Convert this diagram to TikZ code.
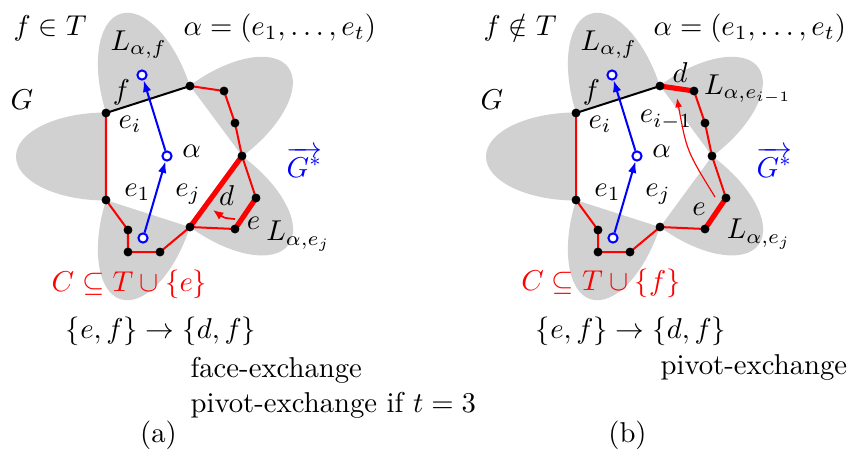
\documentclass[tikz,border=0pt]{standalone}
\usepackage{amsmath}
\usetikzlibrary{arrows.meta}
\tikzset{
  vtx/.style={circle,fill=black,inner sep=0pt,minimum size=3.1pt},
  bcirc/.style={circle,draw=blue,fill=white,line width=0.7pt,inner sep=0pt,minimum size=3.2pt},
  petal/.style={fill=black!18},
  redthin/.style={red,line width=0.7pt,line join=round},
  redthick/.style={red,line width=1.8pt,line cap=round},
  fedge/.style={black,line width=0.7pt},
  barrow/.style={blue,line width=0.7pt,-{Latex[length=4pt,width=3pt]}},
  rarrow/.style={red,line width=0.6pt,-{Latex[length=3.6pt,width=3pt]}},
  lab/.style={inner sep=0pt},
}
\newcommand{\DrawBase}{%
  \coordinate (v1) at (106,113);
  \coordinate (v2) at (190,86);
  \coordinate (v3) at (224,91);
  \coordinate (v4) at (235,123);
  \coordinate (v5) at (242,156);
  \coordinate (v6) at (256,198);
  \coordinate (v7) at (235,229);
  \coordinate (v8) at (190,227);
  \coordinate (v9) at (160,252);
  \coordinate (v10) at (128,252);
  \coordinate (v11) at (128,230);
  \coordinate (v12) at (106,200);
  \fill[petal,shift={(148,99.5)},rotate=107.8] (0,0) ellipse [x radius=90,y radius=44];
  \fill[petal,shift={(216,121)},rotate=36.6] (0,0) ellipse [x radius=90,y radius=44];
  \fill[petal,shift={(106,156.5)}] (0,0) ellipse [x radius=90,y radius=44];
  \fill[petal,shift={(148,213.5)},rotate=72.2] (0,0) ellipse [x radius=90,y radius=44];
  \fill[petal,shift={(216,191.5)},rotate=-36.2] (0,0) ellipse [x radius=90,y radius=44];
  \fill[white] (v1) -- (v2) -- (v5) -- (v8) -- (v12) -- cycle;
}
\newcommand{\DrawDotsAndAlpha}{%
  \foreach \i in {1,...,12} \node[vtx] (n\i) at (v\i) {};
  \node[bcirc] (a1) at (143,238) {};
  \node[bcirc] (a2) at (167,156) {};
  \node[bcirc] (a3) at (142,75) {};
  \draw[barrow] (a1) -- (a2);
  \draw[barrow] (a2) -- (a3);
  \node[lab,anchor=base west] (lG) at (10,109) {$G$};
  \node[lab,anchor=base west] (lLf) at (110,50) {$L_{\alpha,f}$};
  \node[lab,anchor=base west] (lal) at (183,35) {$\alpha=(e_1,\ldots,e_t)$};
  \node[lab] (lf) at (121.5,92.5) {$f$};
  \node[lab] (lei) at (130,124) {$e_i$};
  \node[lab] (lalpha) at (191.5,151.5) {$\alpha$};
  \node[lab] (le1) at (137.5,192) {$e_1$};
  \node[lab] (lej) at (188,194) {$e_j$};
  \node[lab,text=blue] (lGs) at (304.5,162) {$\overrightarrow{G^*}$};
  \node[lab] (lex) at (161,331.5) {$\{e,f\}\rightarrow\{d,f\}$};
}
\begin{document}
\begin{tikzpicture}[x=0.3484pt,y=-0.3484pt]
\useasboundingbox (0,0) rectangle (849,453);
% ---------- (a) ----------
\begin{scope}[name prefix=a-]
  \DrawBase
  \draw[fedge] (v1) -- (v2);
  \draw[redthin] (v2) -- (v3) -- (v4) -- (v5) -- (v6);
  \draw[redthin] (v7) -- (v8) -- (v9) -- (v10) -- (v11) -- (v12) -- (v1);
  \draw[redthick] (v8) -- (v5);
  \draw[redthick] (v6) -- (v7);
  \DrawDotsAndAlpha
  \node[lab,anchor=base west] (lT) at (13,35) {$f\in T$};
  \node[lab] (ld) at (226.5,195.5) {$d$};
  \node[lab] (le) at (253.5,223.5) {$e$};
  \node[lab] (lLej) at (298.5,236) {$L_{\alpha,e_j}$};
  \node[lab,text=red] (lC) at (129.5,284) {$C\subseteq T\cup\{e\}$};
  \node[lab,anchor=base west] (lfe) at (190,377) {face-exchange};
  \node[lab,anchor=base west] (lpe) at (190,412) {pivot-exchange if $t=3$};
  \node[lab] (lcap) at (158.5,435) {(a)};
  \coordinate (ra0) at (235,219);
  \coordinate (ra1) at (213,210);
  \draw[rarrow] (ra0) .. controls (224,218) .. (ra1);
\end{scope}
% ---------- (b) ----------
\begin{scope}[shift={(470,0)},name prefix=b-]
  \DrawBase
  \draw[fedge] (v1) -- (v2);
  \draw[redthin] (v3) -- (v4) -- (v5) -- (v6);
  \draw[redthin] (v7) -- (v8) -- (v9) -- (v10) -- (v11) -- (v12) -- (v1);
  \draw[redthick] (v2) -- (v3);
  \draw[redthick] (v6) -- (v7);
  \DrawDotsAndAlpha
  \node[lab,anchor=base west] (lT) at (13,35) {$f\notin T$};
  \node[lab] (ld) at (210,72.5) {$d$};
  \node[lab] (lLei) at (278,89) {$L_{\alpha,e_{i-1}}$};
  \node[lab] (leim) at (196,120) {$e_{i-1}$};
  \node[lab] (le) at (229,209.5) {$e$};
  \node[lab] (lLej) at (289,234) {$L_{\alpha,e_j}$};
  \node[lab,text=red] (lC) at (131,283) {$C\subseteq T\cup\{f\}$};
  \node[lab,anchor=base west] (lpe) at (190,374) {pivot-exchange};
  \node[lab] (lcap) at (157.5,435) {(b)};
  \coordinate (rb0) at (245,197);
  \coordinate (rb1) at (207,98);
  \draw[red,line width=0.4pt,-{Latex[length=3.2pt,width=2.4pt]}] (rb0) .. controls (216.7,151) .. (rb1);
\end{scope}
\end{tikzpicture}
\end{document}
